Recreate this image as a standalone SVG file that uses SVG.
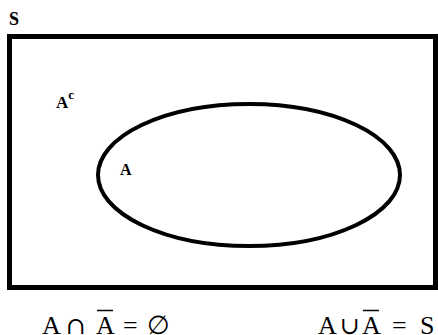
<svg xmlns="http://www.w3.org/2000/svg" width="438" height="335" viewBox="0 0 438 335">
<style>
.lbl{font-family:"Liberation Serif","Times New Roman",serif;font-weight:bold;fill:#000}
.eq{font-family:"Liberation Serif","Times New Roman",serif;font-size:26px;fill:#000}
.op{font-family:"DejaVu Serif",serif;font-size:24px}
.shape{fill:none;stroke:#000}
.bar{stroke:#000;stroke-width:1.5}
</style>
<rect x="0" y="0" width="438" height="335" fill="#fff"/>
<g id="universe">
<rect class="shape" x="9.5" y="36.5" width="426" height="251" stroke-width="5"/>
<text class="lbl" x="9" y="25" font-size="18">S</text>
</g>
<g id="complement">
<text class="lbl" x="56" y="108" font-size="17">A<tspan font-size="13" dy="-9">c</tspan></text>
</g>
<g id="setA">
<ellipse class="shape" cx="249" cy="175" rx="151" ry="71" stroke-width="4"/>
<text class="lbl" x="120" y="175" font-size="16">A</text>
</g>
<g id="equations">
<text class="eq" x="42" y="334">A</text>
<text class="eq op" x="66" y="334">∩</text>
<text class="eq" x="96 123 147" y="334">A=∅</text>
<line class="bar" x1="97" y1="310.5" x2="113" y2="310.5"/>
<text class="eq" x="318" y="334">A</text>
<text class="eq op" x="340" y="334">∪</text>
<text class="eq" x="362 392 420" y="334">A=S</text>
<line class="bar" x1="363" y1="310.5" x2="379" y2="310.5"/>
</g>
</svg>
